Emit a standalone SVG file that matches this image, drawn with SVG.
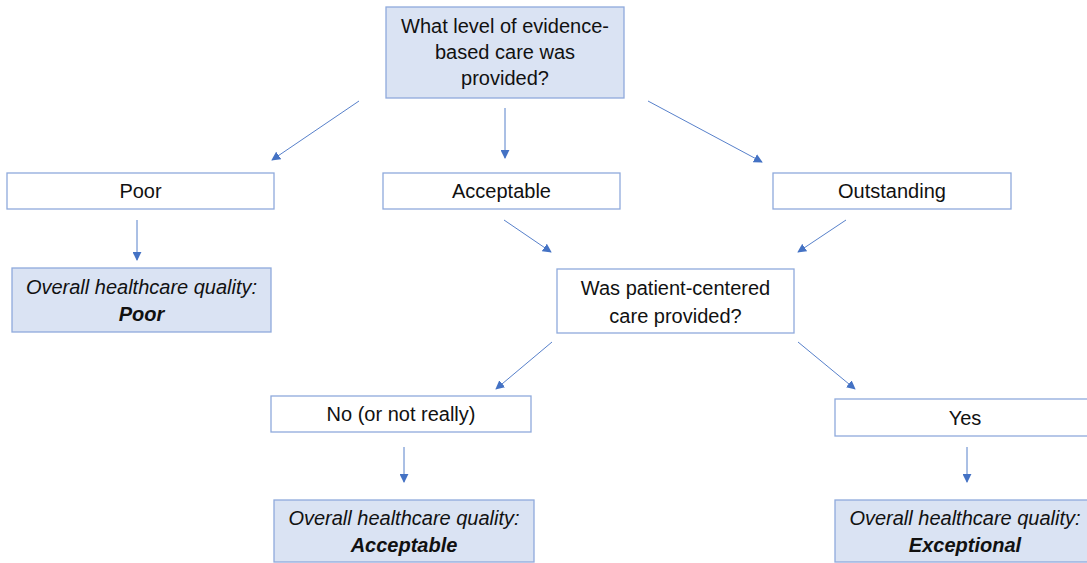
<svg xmlns="http://www.w3.org/2000/svg" width="1087" height="563" viewBox="0 0 1087 563">
<defs>
<marker id="ah" viewBox="0 0 10 10" refX="9" refY="5" markerWidth="9" markerHeight="9" markerUnits="userSpaceOnUse" orient="auto">
<path d="M0,0 L10,5 L0,10 z" fill="#4472C4"/>
</marker>
<style>
.box{fill:#ffffff;stroke:#8FAADC;stroke-width:1.3}
.fbox{fill:#DAE3F3;stroke:#8FAADC;stroke-width:1.3}
.t{font-family:"Liberation Sans",Arial,sans-serif;font-size:20px;fill:#111111;text-anchor:middle}
.i{font-style:italic}
.b{font-style:italic;font-weight:bold}
.c{stroke:#4472C4;stroke-width:0.9;fill:none;marker-end:url(#ah)}
</style>
</defs>
<rect width="1087" height="563" fill="#ffffff"/>
<g id="q1">
<rect class="fbox" x="386" y="7" width="238" height="91"/>
<text class="t" x="505" y="33">What level of evidence-</text>
<text class="t" x="505" y="59">based care was</text>
<text class="t" x="505" y="85">provided?</text>
</g>
<g id="poor">
<rect class="box" x="7" y="173" width="267" height="36"/>
<text class="t" x="140.5" y="198">Poor</text>
</g>
<g id="acceptable">
<rect class="box" x="383" y="173" width="237" height="36"/>
<text class="t" x="501.5" y="198">Acceptable</text>
</g>
<g id="outstanding">
<rect class="box" x="773" y="173" width="238" height="36"/>
<text class="t" x="892" y="198">Outstanding</text>
</g>
<g id="result-poor">
<rect class="fbox" x="12" y="268" width="259" height="64"/>
<text class="t i" x="141.5" y="294">Overall healthcare quality:</text>
<text class="t b" x="141.5" y="321">Poor</text>
</g>
<g id="q2">
<rect class="box" x="557" y="269" width="237" height="64"/>
<text class="t" x="675.5" y="295">Was patient-centered</text>
<text class="t" x="675.5" y="323">care provided?</text>
</g>
<g id="no">
<rect class="box" x="271" y="396" width="260" height="36"/>
<text class="t" x="401" y="421">No (or not really)</text>
</g>
<g id="yes">
<rect class="box" x="835" y="399" width="260" height="37"/>
<text class="t" x="965" y="425">Yes</text>
</g>
<g id="result-acceptable">
<rect class="fbox" x="274" y="500" width="260" height="62"/>
<text class="t i" x="404" y="525">Overall healthcare quality:</text>
<text class="t b" x="404" y="552">Acceptable</text>
</g>
<g id="result-exceptional">
<rect class="fbox" x="835" y="500" width="260" height="62"/>
<text class="t i" x="965" y="525">Overall healthcare quality:</text>
<text class="t b" x="965" y="552">Exceptional</text>
</g>
<g id="connectors">
<line class="c" x1="359" y1="101" x2="272" y2="160"/>
<line class="c" x1="505" y1="108" x2="505" y2="158"/>
<line class="c" x1="648" y1="101" x2="762" y2="162"/>
<line class="c" x1="137" y1="220" x2="137" y2="260"/>
<line class="c" x1="504" y1="220" x2="551" y2="252"/>
<line class="c" x1="846" y1="220" x2="798" y2="252"/>
<line class="c" x1="552" y1="342" x2="496" y2="389"/>
<line class="c" x1="798" y1="342" x2="855" y2="389"/>
<line class="c" x1="404" y1="447" x2="404" y2="482"/>
<line class="c" x1="967" y1="447" x2="967" y2="482"/>
</g>
</svg>
